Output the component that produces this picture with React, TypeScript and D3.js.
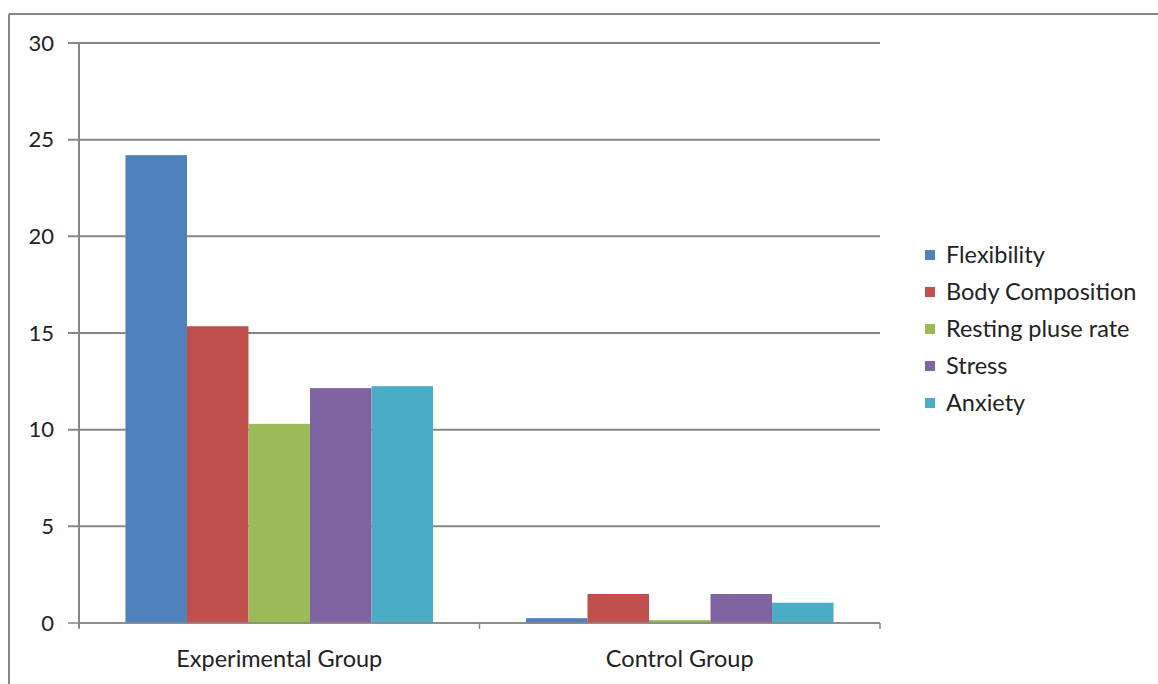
import React from "react";
import * as d3 from "d3";

const groups = ["Experimental Group", "Control Group"];
const seriesNames = ["Flexibility", "Body Composition", "Resting pluse rate", "Stress", "Anxiety"];
const experimentalValues = [24.2, 15.35, 10.3, 12.15, 12.25];
const controlValues = [0.25, 1.5, 0.15, 1.5, 1.05];
const yTicks = [0, 5, 10, 15, 20, 25, 30];
const seriesColors = ["#4F81BD", "#C0504D", "#9BBB59", "#8064A2", "#4BACC6"];

const W = 1158;
const H = 684;
const FONT = "Lato, 'Open Sans', 'Liberation Sans', sans-serif";

export default function App() {
  const plotLeft = 79;
  const plotRight = 880;
  const plotTop = 43;
  const plotBottom = 623;

  const y = d3.scaleLinear().domain([0, 30]).range([plotBottom, plotTop]);
  const x0 = d3.scaleBand<string>().domain(groups).range([plotLeft, plotRight]);
  const inset = x0.bandwidth() * 0.116;
  const x1 = d3
    .scaleBand<string>()
    .domain(seriesNames)
    .range([inset, x0.bandwidth() - inset]);

  const valuesByGroup = [experimentalValues, controlValues];
  const grid = "#878787";

  return (
    <svg
      width={W}
      height={H}
      style={{ position: "absolute", left: 0, top: 0, background: "#fff" }}
      fontFamily={FONT}
    >
      {/* outer frame */}
      <line x1={9} x2={9} y1={14} y2={H} stroke={grid} strokeWidth={2} />
      <line x1={9} x2={W} y1={14} y2={14} stroke={grid} strokeWidth={2} />

      {/* gridlines and y ticks */}
      {yTicks.map((t) => (
        <g key={t}>
          <line
            x1={plotLeft - 11}
            x2={plotRight}
            y1={y(t)}
            y2={y(t)}
            stroke={grid}
            strokeWidth={t === 0 ? 1.5 : 2}
          />
          <text
            x={54}
            y={y(t)}
            dy="0.35em"
            textAnchor="end"
            fontSize={22}
            fill="#222"
          >
            {t}
          </text>
        </g>
      ))}

      {/* bars */}
      {groups.map((g, gi) => (
        <g key={g} transform={`translate(${x0(g)},0)`}>
          {seriesNames.map((s, si) => {
            const v = valuesByGroup[gi][si];
            return (
              <rect
                key={s}
                x={x1(s)}
                y={y(v)}
                width={x1.bandwidth()}
                height={y(0) - y(v)}
                fill={seriesColors[si]}
              />
            );
          })}
        </g>
      ))}

      {/* axes */}
      <line x1={plotLeft} x2={plotLeft} y1={plotTop} y2={plotBottom + 5} stroke={grid} strokeWidth={2} />
      <line x1={plotLeft} x2={plotRight} y1={plotBottom} y2={plotBottom} stroke={grid} strokeWidth={1.5} />
      {[...groups.map((g) => x0(g) as number), plotRight].map((px, i) => (
        <line key={i} x1={px} x2={px} y1={plotBottom} y2={plotBottom + 6} stroke={grid} strokeWidth={1.5} />
      ))}
      {groups.map((g) => (
        <text
          key={g}
          x={(x0(g) as number) + x0.bandwidth() / 2}
          y={667}
          textAnchor="middle"
          fontSize={23.5}
          fill="#222"
        >
          {g}
        </text>
      ))}

      {/* legend */}
      {seriesNames.map((s, i) => {
        const cy = 255 + i * 37;
        return (
          <g key={s}>
            <rect x={925} y={cy - 5} width={10} height={10} fill={seriesColors[i]} />
            <text x={946} y={cy} dy="0.35em" fontSize={23.5} fill="#222">
              {s}
            </text>
          </g>
        );
      })}
    </svg>
  );
}
